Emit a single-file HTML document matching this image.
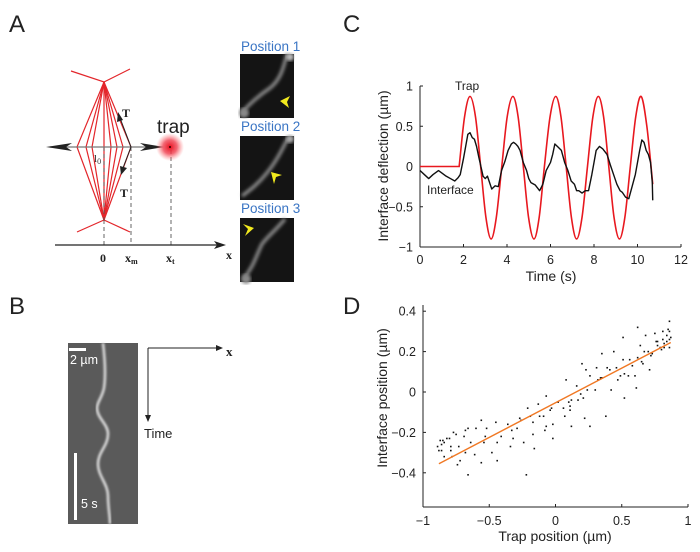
<!DOCTYPE html>
<html><head><meta charset="utf-8"><style>
body{margin:0;background:#fff;}
svg{display:block;font-family:"Liberation Sans",Arial,sans-serif;}
</style></head><body>
<svg id="fig" width="700" height="552" viewBox="0 0 700 552" xmlns="http://www.w3.org/2000/svg">
<defs>
<radialGradient id="trapg"><stop offset="0" stop-color="#e8101e"/><stop offset="0.5" stop-color="#f04050" stop-opacity="0.8"/><stop offset="1" stop-color="#ff8080" stop-opacity="0"/></radialGradient>
<filter id="blur1"><feGaussianBlur stdDeviation="1.6"/></filter>
<filter id="blur2"><feGaussianBlur stdDeviation="1"/></filter>
</defs>
<!-- Panel A -->
<g>
<text x="9" y="32" font-size="24" fill="#222">A</text>
<g stroke="#e3262b" stroke-width="1.2" fill="none">
<polyline points="71,71 104,82 130,69"/>
<polyline points="77,232 104,220 130,232"/>
<polyline points="104,82 77,147 104,220"/>
<polyline points="104,82 86,147 104,220"/>
<polyline points="104,82 92,147 104,220"/>
<polyline points="104,82 111,147 104,220"/>
<polyline points="104,82 117,147 104,220"/>
<polyline points="104,82 123,147 104,220"/>
<polyline points="104,82 131,147 104,220"/>
<line x1="104" y1="82" x2="104" y2="220"/>
</g>
<g stroke="#555" stroke-width="0.9" stroke-dasharray="4,3">
<line x1="104" y1="220" x2="104" y2="245"/>
<line x1="131" y1="147" x2="131" y2="245"/>
<line x1="171" y1="150" x2="171" y2="245"/>
<line x1="104" y1="147" x2="104" y2="220"/>
</g>
<line x1="50" y1="147" x2="160" y2="147" stroke="#777" stroke-width="1.2"/>
<polygon points="46,147 72,143 66,147 72,151" fill="#222"/>
<polygon points="164,147 140,143 146,147 140,151" fill="#222"/>
<circle cx="170" cy="147" r="14" fill="url(#trapg)"/>
<circle cx="170" cy="147" r="1" fill="#300"/>
<text x="157" y="133" font-size="19" fill="#222">trap</text>
<line x1="131" y1="147" x2="120" y2="118" stroke="#222" stroke-width="1"/>
<polygon points="118,112 117,122 123,120" fill="#222"/>
<line x1="131" y1="147" x2="123" y2="168" stroke="#222" stroke-width="1"/>
<polygon points="121,175 120,166 127,168" fill="#222"/>
<text x="122" y="117" font-size="12" font-weight="bold" font-family="Liberation Serif,serif" fill="#222">T</text>
<text x="120" y="197" font-size="12" font-weight="bold" font-family="Liberation Serif,serif" fill="#222">T</text>
<text x="94" y="162" font-size="11" font-family="Liberation Serif,serif" fill="#333">l<tspan font-size="8" dy="2">0</tspan></text>
<line x1="55" y1="245" x2="218" y2="245" stroke="#222" stroke-width="1.2"/>
<polygon points="226,245 214,241 217,245 214,249" fill="#222"/>
<g font-family="Liberation Serif,serif" font-weight="bold" fill="#222" font-size="12">
<text x="100" y="262">0</text>
<text x="125" y="262">x<tspan font-size="8" dy="2">m</tspan></text>
<text x="166" y="262">x<tspan font-size="8" dy="2">t</tspan></text>
<text x="226" y="259">x</text>
</g>
<g font-size="13.5" fill="#3a75c4">
<text x="241" y="51">Position 1</text>
<text x="241" y="131">Position 2</text>
<text x="241" y="213">Position 3</text>
</g>
<g>
<rect x="240" y="54" width="54" height="64" fill="#141414"/>
<path d="M287,54 C283,70 280,80 270,88 C258,96 250,104 242,112" stroke="#8a8a8a" stroke-width="3.5" fill="none" filter="url(#blur1)"/>
<circle cx="290" cy="57" r="4" fill="#bbb" filter="url(#blur1)"/>
<circle cx="244" cy="113" r="5" fill="#888" filter="url(#blur1)"/>
<polygon points="280,101 290,96 287,102 289,108" fill="#f2ea1e"/>
</g>
<g>
<rect x="240" y="136" width="54" height="64" fill="#141414"/>
<path d="M288,138 C282,150 276,162 266,174 C258,184 250,190 242,196" stroke="#8a8a8a" stroke-width="3.5" fill="none" filter="url(#blur1)"/>
<circle cx="290" cy="139" r="4" fill="#aaa" filter="url(#blur1)"/>
<polygon points="271,172 282,175 276,177 274,184" fill="#f2ea1e"/>
</g>
<g>
<rect x="240" y="218" width="54" height="64" fill="#141414"/>
<path d="M285,219 C276,230 268,236 262,244 C256,256 254,266 244,278" stroke="#8a8a8a" stroke-width="3.5" fill="none" filter="url(#blur1)"/>
<circle cx="246" cy="279" r="5" fill="#888" filter="url(#blur1)"/>
<polygon points="254,228 243,224 248,229 245,236" fill="#f2ea1e"/>
</g>
</g>
<!-- Panel B -->
<g>
<text x="9" y="314" font-size="24" fill="#222">B</text>
<rect x="68" y="343" width="70" height="181" fill="#5a5a5a"/>
<path d="M103,343 C105,360 106,375 104,388 C102,398 97,402 97,408 C97,418 108,424 108,434 C108,446 98,452 98,464 C98,476 108,484 108,496 C108,508 110,515 110,524" stroke="#dcdcdc" stroke-width="2.6" fill="none" filter="url(#blur2)"/>
<rect x="69" y="348" width="17" height="3" fill="#fff"/>
<text x="70" y="364" font-size="12.5" fill="#fff">2 µm</text>
<rect x="74" y="453" width="3" height="67" fill="#fff"/>
<text x="81" y="508" font-size="12.5" fill="#fff">5 s</text>
<line x1="148" y1="348" x2="219" y2="348" stroke="#222" stroke-width="1"/>
<polygon points="223,348 216,345 216,351" fill="#222"/>
<line x1="148" y1="348" x2="148" y2="418" stroke="#222" stroke-width="1"/>
<polygon points="148,422 145,415 151,415" fill="#222"/>
<text x="226" y="356" font-size="13" font-weight="bold" font-family="Liberation Serif,serif" fill="#222">x</text>
<text x="144" y="438" font-size="13" fill="#222">Time</text>
</g>
<!-- Panel C -->
<text x="343" y="32" font-size="24" fill="#222">C</text>
<g id="chartC"></g>
<!-- Panel D -->
<text x="343" y="314" font-size="24" fill="#222">D</text>
<g id="chartD"></g>
</svg>
<script>
const NS="http://www.w3.org/2000/svg";
// Panel C data
const cXTicks=[0,2,4,6,8,10,12];
const cYTicks=[1,0.5,0,-0.5,-1];
const cYTickLabels=["1","0.5","0","\u22120.5","\u22121"];
const trapT=[0,1.8,2.05,2.3,2.55,2.79,3.03,3.27,3.51,3.76,4.01,4.27,4.51,4.75,4.99,5.24,5.48,5.72,5.98,6.24,6.48,6.72,6.96,7.2,7.45,7.7,7.95,8.2,8.44,8.68,8.92,9.17,9.42,9.67,9.92,10.17,10.43,10.7];
const trapV=[0,0,0.62,0.87,0.62,0,-0.63,-0.9,-0.63,0,0.62,0.87,0.62,0,-0.63,-0.9,-0.63,0,0.62,0.87,0.62,0,-0.63,-0.9,-0.63,0,0.62,0.87,0.62,0,-0.63,-0.9,-0.63,0,0.62,0.87,0.5,-0.22];
const ifaceT=[0,0.2,0.4,0.6,0.85,1.0,1.2,1.4,1.6,1.75,1.85,2.0,2.1,2.2,2.3,2.4,2.5,2.6,2.7,2.8,2.9,3.0,3.1,3.2,3.3,3.45,3.6,3.75,3.9,4.05,4.2,4.3,4.4,4.5,4.6,4.75,4.9,5.0,5.1,5.3,5.5,5.65,5.8,6.0,6.1,6.2,6.35,6.5,6.65,6.8,6.95,7.1,7.2,7.3,7.45,7.6,7.75,7.9,8.0,8.1,8.25,8.4,8.6,8.75,8.9,9.05,9.2,9.3,9.45,9.6,9.75,9.9,10.0,10.1,10.2,10.3,10.4,10.5,10.6,10.68,10.7];
const ifaceV=[-0.05,-0.1,-0.15,-0.1,-0.05,-0.08,-0.12,-0.15,-0.18,-0.14,-0.1,0.1,0.25,0.4,0.42,0.36,0.34,0.25,0.12,0,-0.12,-0.15,-0.12,-0.2,-0.28,-0.24,-0.25,-0.05,0.06,0.2,0.28,0.3,0.28,0.25,0.2,0.05,-0.05,-0.15,-0.2,-0.23,-0.3,-0.22,-0.05,0.05,0.15,0.28,0.24,0.2,0.05,-0.05,-0.18,-0.22,-0.3,-0.3,-0.33,-0.3,-0.3,-0.1,0.05,0.2,0.25,0.22,0.15,0.02,-0.1,-0.22,-0.3,-0.32,-0.38,-0.4,-0.25,-0.1,0.05,0.2,0.33,0.3,0.2,0.15,0.05,-0.2,-0.42];
// Panel D data
const dXTicks=[-1,-0.5,0,0.5,1];
const dXTickLabels=["\u22121","\u22120.5","0","0.5","1"];
const dYTicks=[0.4,0.2,0,-0.2,-0.4];
const dYTickLabels=["0.4","0.2","0","\u22120.2","\u22120.4"];
const scatX=[-0.89,-0.88,-0.87,-0.86,-0.86,-0.85,-0.84,-0.84,-0.82,-0.80,-0.79,-0.79,-0.78,-0.77,-0.75,-0.74,-0.73,-0.72,-0.69,-0.68,-0.68,-0.66,-0.66,-0.64,-0.61,-0.60,-0.56,-0.56,-0.54,-0.53,-0.52,-0.48,-0.45,-0.44,-0.44,-0.41,-0.36,-0.34,-0.33,-0.32,-0.29,-0.27,-0.26,-0.24,-0.22,-0.21,-0.19,-0.17,-0.17,-0.16,-0.13,-0.12,-0.09,-0.08,-0.07,-0.07,-0.04,-0.03,-0.02,-0.02,0.02,0.06,0.07,0.08,0.10,0.11,0.11,0.12,0.12,0.16,0.17,0.19,0.20,0.21,0.22,0.23,0.24,0.26,0.26,0.30,0.31,0.32,0.34,0.35,0.35,0.38,0.39,0.41,0.42,0.44,0.46,0.47,0.49,0.51,0.51,0.52,0.52,0.55,0.56,0.58,0.60,0.61,0.62,0.62,0.64,0.65,0.66,0.67,0.68,0.70,0.71,0.72,0.73,0.75,0.76,0.77,0.77,0.79,0.80,0.81,0.81,0.82,0.82,0.84,0.84,0.85,0.86,0.86,0.86,0.86,0.87];
const scatY=[-0.27,-0.29,-0.24,-0.29,-0.26,-0.24,-0.32,-0.25,-0.23,-0.23,-0.27,-0.29,-0.32,-0.20,-0.21,-0.36,-0.27,-0.34,-0.22,-0.30,-0.19,-0.41,-0.18,-0.25,-0.31,-0.18,-0.35,-0.14,-0.25,-0.22,-0.18,-0.30,-0.15,-0.25,-0.34,-0.22,-0.16,-0.27,-0.19,-0.23,-0.18,-0.13,-0.14,-0.25,-0.41,-0.08,-0.12,-0.15,-0.21,-0.28,-0.06,-0.12,-0.12,-0.19,-0.17,-0.02,-0.09,-0.08,-0.23,-0.16,-0.05,-0.08,-0.12,0.06,-0.05,-0.07,-0.09,-0.17,-0.04,0.03,-0.04,-0.01,0.14,-0.03,-0.13,0.11,0.01,-0.17,0.08,0.01,0.12,0.06,0.07,0.19,0.07,-0.12,0.12,0.11,0.01,0.20,0.12,0.06,0.08,0.16,0.27,-0.03,0.09,0.08,0.16,0.13,0.08,0.02,0.32,0.17,0.23,0.15,0.14,0.20,0.28,0.20,0.11,0.18,0.19,0.29,0.25,0.25,0.23,0.22,0.21,0.30,0.26,0.24,0.22,0.25,0.28,0.31,0.26,0.22,0.35,0.30,0.27];
const fitX=[-0.88,0.87];
const fitY=[-0.355,0.245];

function mk(parent,tag,attrs,txt){const e=document.createElementNS(NS,tag);for(const k in attrs)e.setAttribute(k,attrs[k]);if(txt!==undefined)e.textContent=txt;parent.appendChild(e);return e;}

// Chart C
const gC=document.getElementById('chartC');
const cx=v=>420+v*(261/12);
const cy=v=>166.5-v*80.5;
let e;
e=mk(gC,'line',{x1:420,y1:86,x2:420,y2:247,stroke:'#222','stroke-width':1});


e=mk(gC,'line',{x1:420,y1:247,x2:681,y2:247,stroke:'#222','stroke-width':1});


cXTicks.forEach(t=>{
 mk(gC,'line',{x1:cx(t),y1:247,x2:cx(t),y2:244,stroke:'#222'});
 e=mk(gC,'text',{x:cx(t),y:264,'font-size':12.5,'text-anchor':'middle',fill:'#222'},String(t));
 
 
});
cYTicks.forEach((t,i)=>{
 mk(gC,'line',{x1:420,y1:cy(t),x2:423,y2:cy(t),stroke:'#222'});
 e=mk(gC,'text',{x:413,y:cy(t)+4.5,'font-size':12.5,'text-anchor':'end',fill:'#222'},cYTickLabels[i]);
 
 
});
e=mk(gC,'text',{x:551,y:281,'font-size':14,'text-anchor':'middle',fill:'#222'},'Time (s)');


e=mk(gC,'text',{x:0,y:0,'font-size':14,'text-anchor':'middle',fill:'#222',transform:'translate(388,166) rotate(-90)'},'Interface deflection (µm)');


function smoothPath(xs,ys,fx,fy){
 const P=xs.map((x,i)=>[fx(x),fy(ys[i])]);
 let d='M'+P[0][0].toFixed(2)+','+P[0][1].toFixed(2);
 for(let i=0;i<P.length-1;i++){
  const p0=P[Math.max(0,i-1)],p1=P[i],p2=P[i+1],p3=P[Math.min(P.length-1,i+2)];
  let c1=[p1[0]+(p2[0]-p0[0])/6,p1[1]+(p2[1]-p0[1])/6];
  let c2=[p2[0]-(p3[0]-p1[0])/6,p2[1]-(p3[1]-p1[1])/6];
  if(i===0&&xs[1]-xs[0]>1){c1=[p1[0],p1[1]];c2=[p2[0],p2[1]];}
  if(i===1&&xs[1]-xs[0]>1){c1=[p1[0]+(p2[0]-p1[0])/3,p1[1]+(p2[1]-p1[1])/3];}
  d+=' C'+c1[0].toFixed(2)+','+c1[1].toFixed(2)+' '+c2[0].toFixed(2)+','+c2[1].toFixed(2)+' '+p2[0].toFixed(2)+','+p2[1].toFixed(2);
 }
 return d;
}
e=mk(gC,'path',{d:smoothPath(trapT,trapV,cx,cy),stroke:'#e8181f','stroke-width':1.6,fill:'none'});


let dI='';
ifaceT.forEach((t,i)=>{dI+=(i?'L':'M')+cx(t).toFixed(2)+','+cy(ifaceV[i]).toFixed(2)+' ';});
e=mk(gC,'path',{d:dI,stroke:'#111','stroke-width':1.4,fill:'none','stroke-linejoin':'round'});


e=mk(gC,'text',{x:455,y:90,'font-size':12,fill:'#222'},'Trap');


e=mk(gC,'text',{x:427,y:194,'font-size':12,fill:'#222'},'Interface');



// Chart D
const gD=document.getElementById('chartD');
const dx=v=>555.5+v*132.5;
const dy=v=>392-v*202;
e=mk(gD,'line',{x1:423,y1:305,x2:423,y2:507,stroke:'#222','stroke-width':1});


e=mk(gD,'line',{x1:423,y1:507,x2:688,y2:507,stroke:'#222','stroke-width':1});


dXTicks.forEach((t,i)=>{
 mk(gD,'line',{x1:dx(t),y1:507,x2:dx(t),y2:504,stroke:'#222'});
 e=mk(gD,'text',{x:dx(t),y:525,'font-size':12.5,'text-anchor':'middle',fill:'#222'},dXTickLabels[i]);
 
 
});
dYTicks.forEach((t,i)=>{
 mk(gD,'line',{x1:423,y1:dy(t),x2:426,y2:dy(t),stroke:'#222'});
 e=mk(gD,'text',{x:416,y:dy(t)+4.5,'font-size':12.5,'text-anchor':'end',fill:'#222'},dYTickLabels[i]);
 
 
});
e=mk(gD,'text',{x:555,y:541,'font-size':14,'text-anchor':'middle',fill:'#222'},'Trap position (µm)');


e=mk(gD,'text',{x:0,y:0,'font-size':14,'text-anchor':'middle',fill:'#222',transform:'translate(387,398) rotate(-90)'},'Interface position (µm)');


scatX.forEach((x,i)=>{
 e=mk(gD,'rect',{x:(dx(x)-0.8).toFixed(2),y:(dy(scatY[i])-0.8).toFixed(2),width:1.6,height:1.6,fill:'#111'});
 
 
});
e=mk(gD,'line',{x1:dx(fitX[0]),y1:dy(fitY[0]),x2:dx(fitX[1]),y2:dy(fitY[1]),stroke:'#f07824','stroke-width':1.4});


</script>
</body></html>
